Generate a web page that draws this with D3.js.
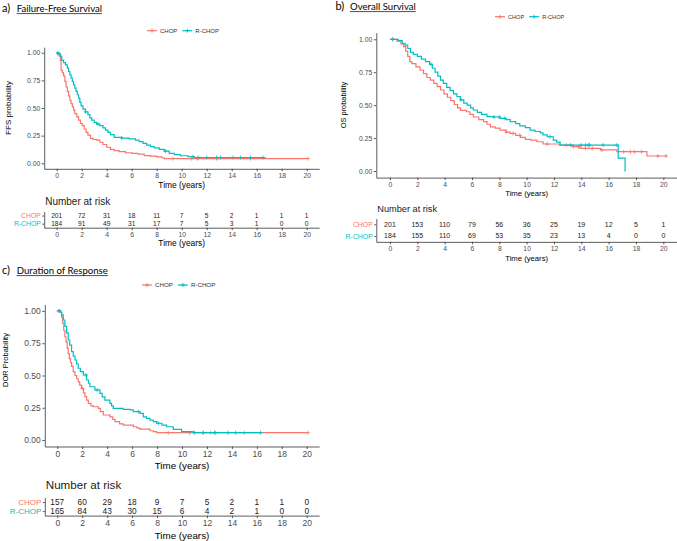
<!DOCTYPE html>
<html>
<head>
<meta charset="utf-8">
<script src="https://cdn.jsdelivr.net/npm/d3@7"></script>
<style>
  body { margin: 0; background: #fff; }
  text { font-family: "Liberation Sans", Arial, sans-serif; }
  .title { font-family: Lato, "Open Sans", sans-serif; }
</style>
</head>
<body>
<div id="chart"></div>
<script>
// groups and colours
var groups = ["CHOP", "R-CHOP"];
var colors = ["#F8766D", "#00BFC4"];
var timeTicks = [0, 2, 4, 6, 8, 10, 12, 14, 16, 18, 20];
var probTicks = [0, 0.25, 0.5, 0.75, 1];

// a) failure-free survival, [time, survival]
var ffsChop = [[0,1],[0.1,0.99],[0.2,0.97],[0.3,0.93],[0.35,0.84],[0.45,0.82],[0.55,0.79],[0.65,0.74],
  [0.75,0.69],[0.85,0.65],[0.95,0.61],[1.05,0.57],[1.15,0.54],[1.25,0.51],[1.35,0.48],[1.45,0.45],
  [1.6,0.42],[1.75,0.39],[1.9,0.36],[2.05,0.34],[2.2,0.31],[2.35,0.28],[2.5,0.255],[2.7,0.225],
  [2.9,0.215],[3.2,0.21],[3.45,0.19],[3.7,0.17],[4.0,0.145],[4.3,0.125],[4.6,0.115],[5.0,0.105],
  [5.5,0.095],[6.0,0.09],[6.5,0.083],[7.0,0.07],[7.5,0.064],[8.0,0.058],[8.4,0.05],[8.6,0.042],[20.1,0.042]];
var ffsRchop = [[0,1],[0.15,0.99],[0.3,0.97],[0.4,0.93],[0.55,0.91],[0.7,0.89],[0.85,0.86],[0.95,0.83],
  [1.05,0.8],[1.15,0.77],[1.25,0.74],[1.35,0.71],[1.45,0.68],[1.55,0.65],[1.65,0.62],[1.75,0.59],
  [1.85,0.55],[1.95,0.52],[2.1,0.49],[2.3,0.465],[2.5,0.44],[2.65,0.41],[2.8,0.39],[3.0,0.37],
  [3.2,0.355],[3.45,0.34],[3.7,0.32],[3.9,0.3],[4.1,0.28],[4.3,0.26],[4.6,0.235],[5.2,0.228],
  [5.8,0.22],[6.3,0.21],[6.6,0.195],[6.9,0.18],[7.2,0.165],[7.5,0.15],[7.8,0.14],[8.2,0.125],
  [8.6,0.11],[9.0,0.09],[9.4,0.078],[9.9,0.068],[10.5,0.06],[11.0,0.052],[16.7,0.052]];
var ffsChopCens = [0.1, 9.3, 10.8, 11.3, 12.8, 15.5, 20.1];
var ffsRchopCens = [0.1, 2.3, 3.3, 5.2, 8.7, 10.9, 11.3, 12.0, 12.8, 13.1, 14.1, 14.7, 15.5, 16.5];
var ffsChopRisk = [201, 72, 31, 18, 11, 7, 5, 2, 1, 1, 1];
var ffsRchopRisk = [184, 91, 49, 31, 17, 7, 5, 3, 1, 0, 0];

// b) overall survival
var osChop = [[0,1],[0.5,0.985],[0.8,0.965],[1.0,0.945],[1.15,0.91],[1.3,0.87],[1.45,0.83],[1.6,0.815],
  [1.9,0.79],[2.2,0.765],[2.45,0.74],[2.7,0.71],[2.95,0.69],[3.2,0.665],[3.45,0.64],[3.7,0.615],
  [3.95,0.585],[4.2,0.56],[4.45,0.535],[4.7,0.505],[4.95,0.48],[5.15,0.46],[5.6,0.45],[5.85,0.43],
  [6.1,0.41],[6.5,0.39],[6.85,0.375],[7.1,0.355],[7.35,0.335],[7.7,0.325],[8.05,0.31],[8.5,0.295],
  [8.8,0.285],[9.2,0.27],[9.55,0.255],[9.9,0.24],[10.3,0.235],[10.75,0.222],[11.2,0.205],[12.4,0.197],
  [13.4,0.185],[13.9,0.172],[15.4,0.16],[16.6,0.147],[18.8,0.114],[20.2,0.114]];
var osRchop = [[0,1],[0.6,0.99],[0.9,0.97],[1.1,0.955],[1.3,0.93],[1.5,0.9],[1.7,0.885],[2.0,0.87],
  [2.3,0.85],[2.6,0.83],[2.9,0.81],[3.1,0.78],[3.3,0.75],[3.5,0.72],[3.7,0.69],[3.9,0.665],
  [4.15,0.635],[4.4,0.61],[4.65,0.585],[4.9,0.565],[5.15,0.54],[5.4,0.515],[5.65,0.5],[5.9,0.48],
  [6.1,0.463],[6.4,0.445],[6.7,0.43],[7.1,0.413],[7.6,0.41],[8.05,0.4],[8.5,0.39],[8.8,0.375],
  [9.2,0.36],[9.5,0.342],[9.9,0.33],[10.25,0.31],[10.6,0.3],[11.0,0.29],[11.2,0.275],[11.5,0.26],
  [11.95,0.235],[12.2,0.22],[12.45,0.197],[16.7,0.098],[17.2,0],[17.25,0]];
var osChopCens = [0.2, 8.5, 9.0, 9.5, 11.5, 12.9, 13.4, 13.8, 14.3, 14.8, 15.5, 17.1, 17.6, 17.9, 18.4, 19.6, 20.2];
var osRchopCens = [0.2, 3.0, 5.2, 7.6, 8.0, 8.4, 11.7, 13.2, 14.0, 14.3, 14.5, 14.6, 15.6, 16.6];
var osChopRisk = [201, 153, 110, 79, 56, 36, 25, 19, 12, 5, 1];
var osRchopRisk = [184, 155, 110, 69, 53, 35, 23, 13, 4, 0, 0];

// c) duration of response
var dorChop = [[0,1],[0.25,0.99],[0.35,0.95],[0.43,0.905],[0.52,0.85],[0.61,0.8],[0.7,0.76],[0.8,0.71],
  [0.88,0.67],[0.97,0.63],[1.06,0.6],[1.15,0.57],[1.28,0.53],[1.42,0.5],[1.55,0.475],[1.68,0.45],
  [1.8,0.425],[1.95,0.4],[2.1,0.365],[2.22,0.336],[2.35,0.31],[2.49,0.284],[2.7,0.265],[2.89,0.258],
  [3.29,0.245],[3.45,0.22],[3.69,0.194],[4.22,0.18],[4.45,0.16],[4.63,0.142],[5.0,0.125],[5.29,0.116],
  [6.1,0.103],[6.4,0.092],[6.63,0.085],[7.43,0.072],[7.7,0.065],[7.97,0.057],[20.1,0.057]];
var dorRchop = [[0,1],[0.25,0.99],[0.35,0.97],[0.48,0.93],[0.61,0.88],[0.75,0.83],[0.88,0.775],[1.0,0.735],
  [1.15,0.685],[1.28,0.65],[1.42,0.62],[1.55,0.59],[1.68,0.556],[1.85,0.53],[2.09,0.504],[2.35,0.465],
  [2.5,0.44],[2.62,0.413],[3.02,0.388],[3.42,0.362],[3.6,0.335],[3.82,0.31],[4.22,0.284],[4.35,0.265],
  [4.49,0.245],[5.29,0.238],[5.83,0.233],[6.1,0.22],[6.63,0.207],[6.9,0.18],[7.15,0.168],[7.43,0.155],
  [7.7,0.142],[7.97,0.13],[8.4,0.115],[8.77,0.103],[9.3,0.083],[9.97,0.065],[10.9,0.057],[16.4,0.057]];
var dorChopCens = [0.1, 2.0, 8.9, 10.6, 11.7, 12.3, 12.7, 15.0, 20.1];
var dorRchopCens = [0.2, 2.3, 3.2, 6.5, 8.1, 11.0, 11.7, 12.6, 13.7, 14.3, 16.3];
var dorChopRisk = [157, 60, 29, 18, 9, 7, 5, 2, 1, 1, 0];
var dorRchopRisk = [165, 84, 43, 30, 15, 6, 4, 2, 1, 0, 0];

var panels = [
  { tag: "a)", title: "Failure-Free Survival", tagX: 2, titleX: 16.7, titleY: 12,
    ylab: "FFS probability", ylabX: 11, ylabY: 108, ylabSize: 8,
    box: {left: 44.2, right: 319.2, top: 47.2, bottom: 168.8},
    legX: 147, legY: 30.7, legSize: 6, tick: 6.8,
    xlabY: 188, xlabSize: 8.4,
    riskTitleY: 205, riskTitleSize: 10, riskTop: 211.5, riskAxis: 227.7,
    riskSize: 6.6, riskLabSize: 6.8, riskXlabY: 246,
    curves: [ffsChop, ffsRchop], cens: [ffsChopCens, ffsRchopCens], risk: [ffsChopRisk, ffsRchopRisk] },
  { tag: "b)", title: "Overall Survival", tagX: 335.5, titleX: 350, titleY: 10,
    ylab: "OS probability", ylabX: 346, ylabY: 105, ylabSize: 7.4,
    box: {left: 376.3, right: 677, top: 32.7, bottom: 177.6},
    legX: 495, legY: 16.7, legSize: 5.6, tick: 6.8,
    xlabY: 195.5, xlabSize: 7.7,
    riskTitleY: 211.5, riskTitleSize: 9.2, riskTop: 218.45, riskAxis: 241.85,
    riskSize: 7, riskLabSize: 6.9, riskXlabY: 261,
    curves: [osChop, osRchop], cens: [osChopCens, osRchopCens], risk: [osChopRisk, osRchopRisk] },
  { tag: "c)", title: "Duration of Response", tagX: 2, titleX: 16.7, titleY: 274,
    ylab: "DOR Probability", ylabX: 8, ylabY: 360, ylabSize: 7.5,
    box: {left: 44.8, right: 319.2, top: 304.5, bottom: 446.5},
    legX: 142, legY: 285, legSize: 6.2, tick: 8.5,
    xlabY: 469, xlabSize: 9.8,
    riskTitleY: 489, riskTitleSize: 11.6, riskTop: 497.6, riskAxis: 515.6,
    riskSize: 8.3, riskLabSize: 8, riskXlabY: 538.5,
    curves: [dorChop, dorRchop], cens: [dorChopCens, dorRchopCens], risk: [dorChopRisk, dorRchopRisk] }
];

var svg = d3.select("#chart").append("svg")
  .attr("width", 677)
  .attr("height", 541);

function survAt(curve, t) {
  var i = d3.bisector(function(d) { return d[0]; }).right(curve, t) - 1;
  return curve[Math.max(i, 0)][1];
}

function plusPath(x, y, r) {
  return "M" + (x - r) + "," + y + "H" + (x + r) + "M" + x + "," + (y - r) + "V" + (y + r);
}

function styleAxis(g, size) {
  g.select(".domain").attr("stroke", "#333").attr("stroke-width", 0.8);
  g.selectAll(".tick line").attr("stroke", "#333").attr("stroke-width", 0.8);
  g.selectAll(".tick text").attr("fill", "#4d4d4d").style("font-size", size + "px")
    .style("font-family", "'Liberation Sans', Arial, sans-serif");
}

function drawPanel(p) {
  var b = p.box;
  var g = svg.append("g");

  // title, underlined
  g.append("text").attr("class", "title").attr("x", p.tagX).attr("y", p.titleY)
    .style("font-size", "11px").text(p.tag);
  var tt = g.append("text").attr("class", "title").attr("x", p.titleX).attr("y", p.titleY)
    .style("font-size", "9.6px").text(p.title);
  var tw = tt.node().getComputedTextLength();
  g.append("line").attr("x1", p.titleX).attr("x2", p.titleX + tw)
    .attr("y1", p.titleY + 1.6).attr("y2", p.titleY + 1.6)
    .attr("stroke", "#000").attr("stroke-width", 0.7);

  // legend
  var lx = p.legX;
  groups.forEach(function(name, i) {
    g.append("line").attr("x1", lx).attr("x2", lx + 10).attr("y1", p.legY).attr("y2", p.legY)
      .attr("stroke", colors[i]).attr("stroke-width", 1.2);
    g.append("path").attr("d", plusPath(lx + 5, p.legY, 2))
      .attr("stroke", colors[i]).attr("stroke-width", 0.9);
    var t = g.append("text").attr("x", lx + 13).attr("y", p.legY).attr("dy", "0.35em")
      .attr("fill", "#333").style("font-size", p.legSize + "px").text(name);
    lx += 13 + t.node().getComputedTextLength() + 5;
  });

  var x = d3.scaleLinear().domain([-1, 21]).range([b.left, b.right]);
  var y = d3.scaleLinear().domain([-0.05, 1.05]).range([b.bottom, b.top]);

  // axes
  var xa = g.append("g").attr("transform", "translate(0," + b.bottom + ")")
    .call(d3.axisBottom(x).tickValues(timeTicks).tickSize(2.5).tickSizeOuter(0).tickPadding(2));
  styleAxis(xa, p.tick);
  var ya = g.append("g").attr("transform", "translate(" + b.left + ",0)")
    .call(d3.axisLeft(y).tickValues(probTicks).tickFormat(d3.format(".2f"))
      .tickSize(2.5).tickSizeOuter(0).tickPadding(1.5));
  styleAxis(ya, p.tick);

  g.append("text").attr("x", (b.left + b.right) / 2).attr("y", p.xlabY)
    .attr("text-anchor", "middle").style("font-size", p.xlabSize + "px").text("Time (years)");
  g.append("text").attr("transform", "translate(" + p.ylabX + "," + p.ylabY + ") rotate(-90)")
    .attr("text-anchor", "middle").style("font-size", p.ylabSize + "px").text(p.ylab);

  // KM curves
  var line = d3.line()
    .x(function(d) { return x(d[0]); })
    .y(function(d) { return y(d[1]); })
    .curve(d3.curveStepAfter);

  p.curves.forEach(function(c, i) {
    g.append("path").datum(c).attr("d", line)
      .attr("fill", "none").attr("stroke", colors[i]).attr("stroke-width", 1.2);
    g.selectAll(null).data(p.cens[i]).enter().append("path")
      .attr("d", function(t) { return plusPath(x(t), y(survAt(c, t)), 2); })
      .attr("stroke", colors[i]).attr("stroke-width", 0.8);
  });

  // number at risk table
  g.append("text").attr("x", b.left + 1).attr("y", p.riskTitleY)
    .style("font-size", p.riskTitleSize + "px").attr("fill", "#222").text("Number at risk");

  var ry = d3.scalePoint().domain(groups).range([p.riskTop, p.riskAxis]).padding(0.5);

  var rxa = g.append("g").attr("transform", "translate(0," + p.riskAxis + ")")
    .call(d3.axisBottom(x).tickValues(timeTicks).tickSize(2.5).tickSizeOuter(0).tickPadding(2));
  styleAxis(rxa, p.tick);
  var rya = g.append("g").attr("transform", "translate(" + b.left + ",0)")
    .call(d3.axisLeft(ry).tickSize(2).tickSizeOuter(0).tickPadding(1.5));
  styleAxis(rya, p.riskLabSize);
  rya.selectAll(".tick text").attr("fill", function(d, i) { return colors[i]; });

  p.risk.forEach(function(vals, i) {
    g.selectAll(null).data(vals).enter().append("text")
      .attr("x", function(v, j) { return x(timeTicks[j]); })
      .attr("y", ry(groups[i])).attr("dy", "0.35em")
      .attr("text-anchor", "middle").attr("fill", "#222")
      .style("font-size", p.riskSize + "px")
      .text(function(v) { return v; });
  });

  g.append("text").attr("x", (b.left + b.right) / 2).attr("y", p.riskXlabY)
    .attr("text-anchor", "middle").style("font-size", p.xlabSize + "px").text("Time (years)");
}

panels.forEach(drawPanel);
</script>
</body>
</html>
